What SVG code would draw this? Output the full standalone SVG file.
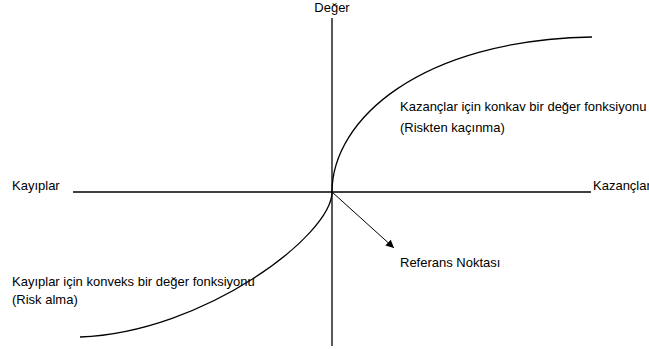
<svg xmlns="http://www.w3.org/2000/svg" width="649" height="349" viewBox="0 0 649 349">
<style>
text{font-family:"Liberation Sans",Arial,sans-serif;font-size:13px;fill:#000}
.ax{stroke:#000;stroke-width:1.3;fill:none}
.cv{stroke:#000;stroke-width:1.3;fill:none}
</style>
<defs>
<marker id="ah" viewBox="0 0 10 10" refX="10" refY="5" markerWidth="8" markerHeight="8" markerUnits="userSpaceOnUse" orient="auto">
<path d="M0,0 L10,5 L0,10 z" fill="#000"/>
</marker>
</defs>
<rect width="649" height="349" fill="#fff"/>
<g id="connectors">
<line class="ax" x1="332" y1="18" x2="332" y2="346"/>
<line class="ax" x1="73" y1="192" x2="591" y2="192"/>
<path class="cv" d="M332,192 C332,120 420,40 592,37"/>
<path class="cv" d="M332,192 C332,235 205,332 80,337"/>
<line x1="332" y1="192" x2="394" y2="248" stroke="#000" stroke-width="1" marker-end="url(#ah)"/>
</g>
<g id="deger"><text x="332" y="12" text-anchor="middle">Değer</text></g>
<g id="kazanc-konkav"><text x="400" y="111">Kazançlar için konkav bir değer fonksiyonu</text><text x="400" y="132">(Riskten kaçınma)</text></g>
<g id="kayiplar"><text x="12" y="190">Kayıplar</text></g>
<g id="kazanclar"><text x="593" y="190">Kazançlar</text></g>
<g id="referans"><text x="400" y="267">Referans Noktası</text></g>
<g id="kayip-konveks"><text x="12" y="286">Kayıplar için konveks bir değer fonksiyonu</text><text x="12" y="304">(Risk alma)</text></g>
</svg>
